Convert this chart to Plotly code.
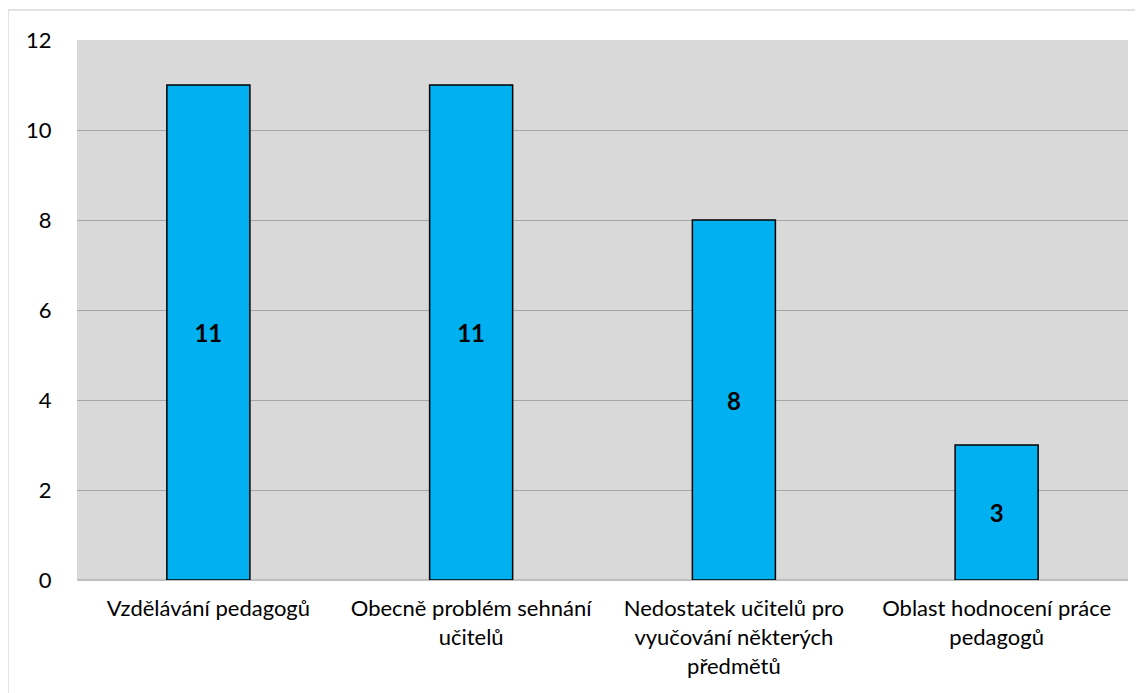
import plotly.graph_objects as go

categories = [
    "Vzdělávání pedagogů",
    "Obecně problém sehnání<br>učitelů",
    "Nedostatek učitelů pro<br>vyučování některých<br>předmětů",
    "Oblast hodnocení práce<br>pedagogů",
]
values = [11, 11, 8, 3]
y_ticks = [0, 2, 4, 6, 8, 10, 12]

FONT = "Lato, Open Sans, Liberation Sans, sans-serif"

fig = go.Figure(
    go.Bar(
        x=categories,
        y=values,
        width=0.316,
        marker=dict(color="#00b0f0", line=dict(color="#000000", width=1.5)),
        text=[str(v) for v in values],
        textposition="inside",
        insidetextanchor="middle",
        textfont=dict(family=FONT, size=24, color="#000000", weight="bold"),
        textangle=0,
    )
)

fig.update_layout(
    width=1135,
    height=685,
    margin=dict(l=69, r=15, t=32, b=113),
    paper_bgcolor="#ffffff",
    plot_bgcolor="#d9d9d9",
    showlegend=False,
    font=dict(family=FONT, size=22, color="#000000"),
    xaxis=dict(
        showgrid=False,
        tickfont=dict(size=22),
        ticks="outside",
        ticklen=9,
        tickcolor="rgba(0,0,0,0)",
        showline=False,
    ),
    yaxis=dict(
        range=[0, 12],
        tickvals=y_ticks,
        showgrid=True,
        gridcolor="#a6a6a6",
        gridwidth=1,
        zeroline=True,
        zerolinecolor="#bfbfbf",
        ticks="outside",
        ticklen=20,
        tickcolor="rgba(0,0,0,0)",
        tickfont=dict(size=22),
    ),
    shapes=[
        dict(
            type="rect", xref="paper", yref="paper",
            x0=-0.0657, x1=1.05, y0=-0.25, y1=1.0556,
            line=dict(color="#d9d9d9", width=1.5),
            fillcolor="rgba(0,0,0,0)", layer="below",
        )
    ],
)

fig.write_html("out.html")
